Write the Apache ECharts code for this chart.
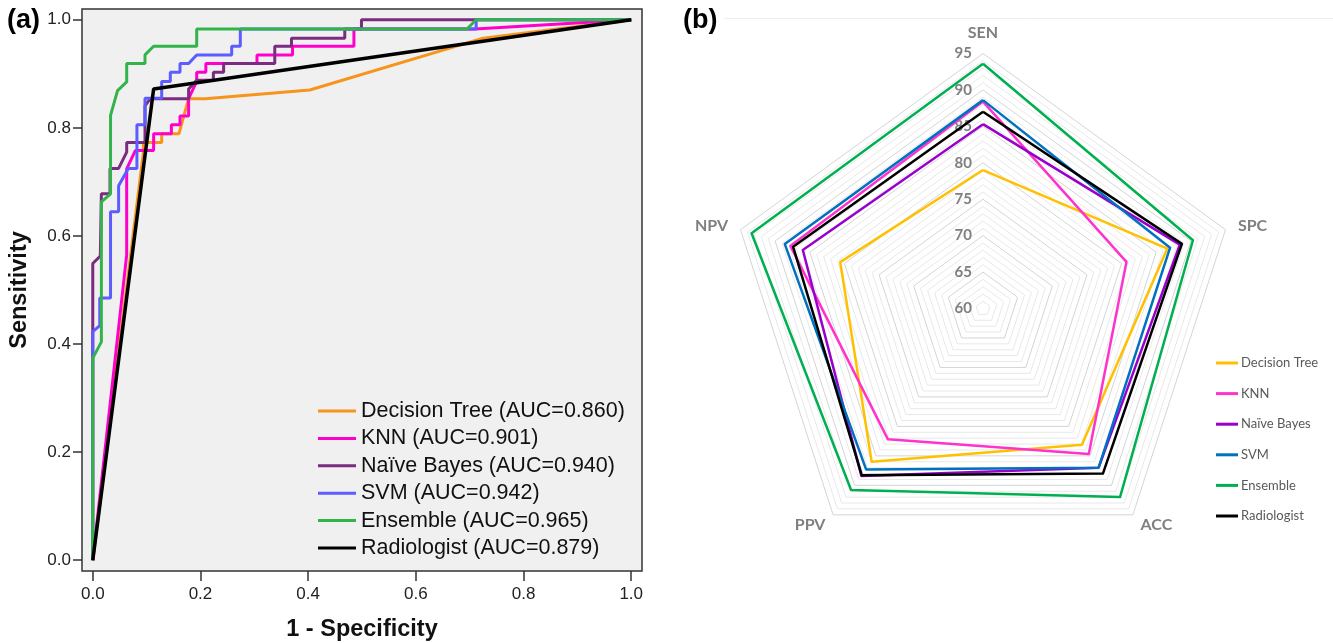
<!DOCTYPE html>
<html>
<head>
<meta charset="utf-8">
<script src="https://cdn.jsdelivr.net/npm/echarts@6/dist/echarts.min.js"></script>
<style>
  html, body { margin: 0; padding: 0; background: #fff; }
  #chart { width: 1333px; height: 643px; }
</style>
</head>
<body>
<div id="chart"></div>
<script>
// ---- (a) ROC curves: [1 - specificity, sensitivity] ----
const rocNames = ['Decision Tree (AUC=0.860)', 'KNN (AUC=0.901)', 'Naïve Bayes (AUC=0.940)',
                  'SVM (AUC=0.942)', 'Ensemble (AUC=0.965)', 'Radiologist (AUC=0.879)'];
const rocColors = ['#f7941d', '#ff00cc', '#7b2b80', '#5c5cff', '#33b44a', '#000000'];

const decisionTreeRoc = [[0, 0], [0.094, 0.755], [0.094, 0.773], [0.128, 0.773], [0.128, 0.789],
  [0.16, 0.789], [0.178, 0.854], [0.209, 0.854], [0.403, 0.870], [0.725, 0.966], [1, 1]];
const knnRoc = [[0, 0], [0.063, 0.565], [0.063, 0.724], [0.079, 0.758], [0.113, 0.758], [0.113, 0.789],
  [0.146, 0.789], [0.146, 0.806], [0.162, 0.806], [0.162, 0.822], [0.178, 0.822], [0.178, 0.854],
  [0.193, 0.886], [0.193, 0.903], [0.21, 0.903], [0.21, 0.919], [0.305, 0.919], [0.305, 0.935],
  [0.371, 0.935], [0.371, 0.951], [0.485, 0.951], [0.485, 0.983], [0.71, 0.983], [1, 1]];
const naiveBayesRoc = [[0, 0], [0, 0.549], [0.014, 0.563], [0.016, 0.678], [0.032, 0.678], [0.032, 0.725],
  [0.048, 0.725], [0.063, 0.755], [0.063, 0.773], [0.097, 0.773], [0.097, 0.841], [0.107, 0.854],
  [0.178, 0.854], [0.178, 0.872], [0.193, 0.888], [0.224, 0.888], [0.224, 0.903], [0.243, 0.903],
  [0.243, 0.919], [0.338, 0.919], [0.338, 0.951], [0.369, 0.951], [0.369, 0.966], [0.468, 0.966],
  [0.468, 0.983], [0.499, 0.983], [0.499, 1], [1, 1]];
const svmRoc = [[0, 0], [0, 0.423], [0.013, 0.434], [0.013, 0.485], [0.033, 0.485], [0.033, 0.645],
  [0.048, 0.645], [0.048, 0.693], [0.066, 0.725], [0.082, 0.725], [0.082, 0.806], [0.097, 0.806],
  [0.097, 0.855], [0.128, 0.855], [0.128, 0.886], [0.144, 0.886], [0.144, 0.903], [0.162, 0.903],
  [0.162, 0.919], [0.178, 0.919], [0.193, 0.935], [0.258, 0.935], [0.258, 0.951], [0.274, 0.951],
  [0.274, 0.983], [0.712, 0.983], [0.712, 1], [1, 1]];
const ensembleRoc = [[0, 0], [0, 0.374], [0.016, 0.404], [0.016, 0.663], [0.033, 0.678], [0.033, 0.823],
  [0.046, 0.869], [0.063, 0.885], [0.063, 0.919], [0.097, 0.919], [0.097, 0.935], [0.113, 0.951],
  [0.193, 0.951], [0.193, 0.983], [0.695, 0.983], [0.712, 1], [1, 1]];
const radiologistRoc = [[0, 0], [0.113, 0.872], [1, 1]];
const rocData = [decisionTreeRoc, knnRoc, naiveBayesRoc, svmRoc, ensembleRoc, radiologistRoc];
const rocTicks = [0, 0.2, 0.4, 0.6, 0.8, 1.0];

// ---- (b) radar: performance (%) ----
const radarNames = ['Decision Tree', 'KNN', 'Naïve Bayes', 'SVM', 'Ensemble', 'Radiologist'];
const radarColors = ['#ffc000', '#ff33cc', '#9900cc', '#0070c0', '#00b050', '#000000'];
const radarAxes = ['SEN', 'NPV', 'PPV', 'ACC', 'SPC'];
//                       SEN   NPV   PPV   ACC   SPC
const decisionTreeVals = [79.0, 80.6, 86.0, 83.1, 86.6];
const knnVals          = [88.4, 87.8, 82.2, 84.7, 80.7];
const naiveBayesVals   = [85.3, 86.0, 88.4, 87.0, 88.4];
const svmVals          = [88.6, 88.6, 87.3, 87.0, 87.0];
const ensembleVals     = [93.6, 93.4, 90.8, 92.0, 90.3];
const radiologistVals  = [87.0, 87.4, 88.3, 88.0, 88.7];
const radarVals = [decisionTreeVals, knnVals, naiveBayesVals, svmVals, ensembleVals, radiologistVals];
const radarMin = 60, radarMax = 95;

const chart = echarts.init(document.getElementById('chart'));

const rocFont = '"Liberation Sans", Arial, sans-serif';
const radarFont = 'Lato, "Open Sans", sans-serif';

const option = {
    animation: false,
    grid: [
        {left: 82, top: 9, width: 560, height: 562, show: true, outerBoundsMode: 'none',
         backgroundColor: '#f0f0f0', borderColor: '#333', borderWidth: 1.5},
        {left: 983, top: 53.5, width: 1, height: 255, show: false, outerBoundsMode: 'none'}
    ],
    xAxis: [
        {type: 'value', gridIndex: 0, min: -0.02, max: 1.02,
         name: '1 - Specificity', nameLocation: 'middle', nameGap: 47,
         nameTextStyle: {fontFamily: rocFont, fontSize: 23.5, fontWeight: 'bold', color: '#111'},
         axisLine: {show: false, onZero: false},
         axisTick: {show: true, length: 10, customValues: rocTicks, lineStyle: {color: '#333', width: 1.5}},
         axisLabel: {customValues: rocTicks, margin: 15, fontFamily: rocFont, fontSize: 17, color: '#222',
                     formatter: v => v.toFixed(1)},
         splitLine: {show: false}},
        {type: 'value', gridIndex: 1, show: false}
    ],
    yAxis: [
        {type: 'value', gridIndex: 0, min: -0.02, max: 1.02,
         name: 'Sensitivity', nameLocation: 'middle', nameGap: 50,
         nameTextStyle: {fontFamily: rocFont, fontSize: 23.5, fontWeight: 'bold', color: '#111'},
         axisLine: {show: false, onZero: false},
         axisTick: {show: true, length: 9, customValues: rocTicks, lineStyle: {color: '#333', width: 1.5}},
         axisLabel: {customValues: rocTicks, margin: 11, fontFamily: rocFont, fontSize: 17, color: '#222',
                     formatter: v => v.toFixed(1)},
         splitLine: {show: false}},
        {type: 'value', gridIndex: 1, min: radarMin, max: radarMax, interval: 5,
         axisLine: {show: false}, axisTick: {show: false}, splitLine: {show: false},
         axisLabel: {margin: 11, fontFamily: radarFont, fontSize: 15, fontWeight: 'bold', color: '#7f7f7f'}}
    ],
    legend: [
        {orient: 'vertical', left: 318, top: 400, data: rocNames, icon: 'rect',
         itemWidth: 38, itemHeight: 3, itemGap: 5.4, padding: 0,
         textStyle: {fontFamily: rocFont, fontSize: 21.5, color: '#111', lineHeight: 22, padding: [0, 0, 0, 0]}},
        {orient: 'vertical', left: 1216, top: 356, data: radarNames, icon: 'rect',
         itemWidth: 22, itemHeight: 3, itemGap: 16.6, padding: 0,
         textStyle: {fontFamily: radarFont, fontSize: 13, color: '#595959', lineHeight: 14, padding: [0, 0, 0, -2]}}
    ],
    radar: {
        center: [983, 308.5],
        radius: 255,
        startAngle: 90,
        splitNumber: radarMax - radarMin,
        indicator: radarAxes.map(n => ({name: n, min: radarMin, max: radarMax})),
        axisName: {fontFamily: radarFont, fontSize: 16, fontWeight: 'bold', color: '#7f7f7f'},
        nameGap: 13,
        axisLine: {show: false},
        axisTick: {show: false},
        axisLabel: {show: false},
        splitArea: {show: false},
        splitLine: {lineStyle: {width: 1, color: ['#d4d4d4', '#e8e8e8', '#e8e8e8', '#e8e8e8', '#e8e8e8']}}
    },
    graphic: [
        {type: 'text', left: 7, top: 7, style: {text: '(a)', fontFamily: rocFont, fontSize: 27, fontWeight: 'bold', fill: '#000'}},
        {type: 'text', left: 683, top: 7, style: {text: '(b)', fontFamily: rocFont, fontSize: 27, fontWeight: 'bold', fill: '#000'}},
        {type: 'line', shape: {x1: 724, y1: 18.5, x2: 1333, y2: 18.5}, style: {stroke: '#eeeeee', lineWidth: 1}}
    ],
    series: rocData.map((d, i) => ({
        type: 'line', name: rocNames[i], xAxisIndex: 0, yAxisIndex: 0,
        data: d, symbol: 'none',
        color: rocColors[i],
        lineStyle: {color: rocColors[i], width: i === 5 ? 3.5 : 3}
    })).concat([{
        type: 'radar',
        symbol: 'none',
        data: radarVals.map((v, i) => ({
            name: radarNames[i], value: v,
            itemStyle: {color: radarColors[i]},
            lineStyle: {color: radarColors[i], width: 2.5}
        }))
    }])
};
chart.setOption(option);
</script>
</body>
</html>
